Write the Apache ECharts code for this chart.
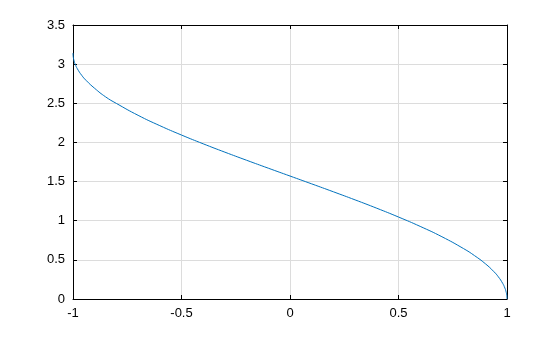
<!DOCTYPE html>
<html><head><meta charset="utf-8">
<script src="https://cdn.jsdelivr.net/npm/echarts@6/dist/echarts.min.js"></script>
<style>html,body{margin:0;padding:0;background:#fff}#c{width:560px;height:337px}</style>
</head><body><div id="c"></div>
<script>
const xValues = [-1, -0.999, -0.995, -0.99, -0.98, -0.96, -0.94, -0.9, -0.85, -0.8, -0.7, -0.6, -0.5, -0.4, -0.3, -0.2, -0.1, 0, 0.1, 0.2, 0.3, 0.4, 0.5, 0.6, 0.7, 0.8, 0.85, 0.9, 0.94, 0.96, 0.98, 0.99, 0.995, 0.999, 1];
const yValues = [3.1416, 3.0969, 3.0414, 3.0002, 2.9413, 2.8578, 2.7934, 2.6906, 2.5824, 2.4981, 2.3462, 2.2143, 2.0944, 1.9823, 1.8755, 1.7722, 1.6710, 1.5708, 1.4706, 1.3694, 1.2661, 1.1593, 1.0472, 0.9273, 0.7954, 0.6435, 0.5548, 0.4510, 0.3482, 0.2838, 0.2003, 0.1415, 0.1001, 0.0447, 0];
const xTicks = [-1, -0.5, 0, 0.5, 1];
const yTicks = [0, 0.5, 1, 1.5, 2, 2.5, 3, 3.5];

const font = {fontFamily: 'Liberation Sans, Arial, sans-serif', fontSize: 13, color: '#000'};
const chart = echarts.init(document.getElementById('c'), null, {renderer: 'canvas'});
const axLine = {show: true, onZero: false, lineStyle: {color: '#000', width: 1}};
const tick = {show: true, inside: true, length: 4, lineStyle: {color: '#000'}};
chart.setOption({
  animation: false,
  grid: {left: 73, top: 25, right: 53, bottom: 38, show: false},
  xAxis: [{
    type: 'value', min: -1, max: 1, interval: 0.5, position: 'bottom',
    axisLine: axLine, axisTick: tick,
    axisLabel: Object.assign({margin: 8, formatter: v => String(v)}, font),
    splitLine: {show: true, lineStyle: {color: '#dcdcdc', width: 1}}
  }, {
    type: 'value', min: -1, max: 1, interval: 0.5, position: 'top',
    axisLine: axLine, axisTick: tick, axisLabel: {show: false}, splitLine: {show: false}
  }],
  yAxis: [{
    type: 'value', min: 0, max: 3.5, interval: 0.5, position: 'left',
    axisLine: axLine, axisTick: tick,
    axisLabel: Object.assign({margin: 8, formatter: v => String(v)}, font),
    splitLine: {show: true, lineStyle: {color: '#dcdcdc', width: 1}}
  }, {
    type: 'value', min: 0, max: 3.5, interval: 0.5, position: 'right',
    axisLine: axLine, axisTick: tick, axisLabel: {show: false}, splitLine: {show: false}
  }],
  series: [{
    type: 'line', xAxisIndex: 0, yAxisIndex: 0, smooth: true, showSymbol: false,
    lineStyle: {color: '#0072BD', width: 1},
    data: xValues.map((x, i) => [x, yValues[i]])
  }]
});
</script></body></html>
